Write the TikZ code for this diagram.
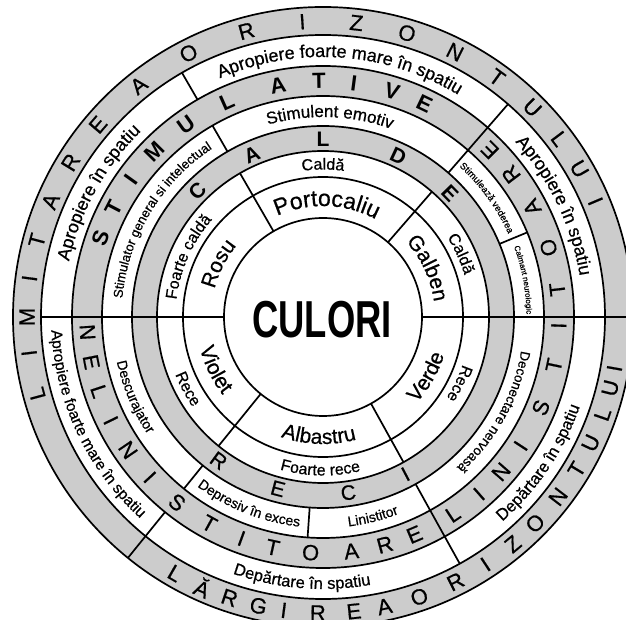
\documentclass[tikz,border=0pt]{standalone}
\usepackage{fontspec}
\usepackage{graphicx}
\setmainfont{Liberation Sans}
\newfontfamily\lab{Liberation Sans}[FakeBold=0.6]
\usetikzlibrary{decorations.text}
\definecolor{ringgray}{RGB}{204,204,204}
\newcommand\fs[1]{\fontsize{#1}{#1}\selectfont}
\newcommand\cwlabel[4]{%
  \path[decorate,decoration={text along path,text align=center,text={|\lab\fs{#3}|#4}}]
    ({#1+50}:#2pt) arc[start angle={#1+50},end angle={#1-50},radius=#2pt];}
\newcommand\ccwlabel[4]{%
  \path[decorate,decoration={text along path,text align=center,text={|\lab\fs{#3}|#4}}]
    ({#1-50}:#2pt) arc[start angle={#1-50},end angle={#1+50},radius=#2pt];}
\begin{document}
\begin{tikzpicture}[x=1pt,y=1pt,line width=1.7pt,
  capG/.style={font=\lab\fs{22},inner sep=0pt},
  capE/.style={font=\lab\fs{22},inner sep=0pt},
  capEb/.style={font=\fs{22}\bfseries,inner sep=0pt},
  capC/.style={font=\lab\fs{21},inner sep=0pt},
  capCb/.style={font=\fs{21}\bfseries,inner sep=0pt}]
\useasboundingbox (-323,-303) rectangle (303,317);
\clip (-323,-303) rectangle (303,317);
\fill[white] (-323,-303) rectangle (303,317);
% gray rings
\fill[ringgray,even odd rule] (0,0) circle[radius=310pt] (0,0) circle[radius=282pt];
\fill[ringgray,even odd rule] (0,0) circle[radius=251pt] (0,0) circle[radius=221pt];
\fill[ringgray,even odd rule] (0,0) circle[radius=191pt] (0,0) circle[radius=166pt];
\foreach \r in {99,140,166,191,221,251,282,310} \draw (0,0) circle[radius=\r pt];
% dividers
\draw (0:99pt) -- (0:310pt);
\draw (180:99pt) -- (180:282pt);
\foreach \a in {49,120,231,299} \draw (\a:99pt) -- (\a:166pt);
\foreach \a in {22.5,49,120,231,266,299} \draw (\a:191pt) -- (\a:221pt);
\foreach \a in {49,299} \draw (\a:221pt) -- (\a:251pt);
\foreach \a in {49,120,231,299} \draw (\a:251pt) -- (\a:282pt);
\draw (231:282pt) -- (231:310pt);
% centre
\node[font=\fs{52}\bfseries,inner sep=0pt] (culori) at (-1,-3) {\scalebox{0.7}[1]{CULORI}};
% ring A
\cwlabel{88}{111}{23}{Portocaliu}
\cwlabel{25}{112}{21}{Galben}
\cwlabel{153}{112}{21}{Rosu}
\ccwlabel{330}{127}{21}{Verde}
\ccwlabel{268}{127}{21}{Albastru}
\ccwlabel{206}{127}{21}{Violet}
% ring B
\cwlabel{90}{147.5}{16}{Caldă}
\cwlabel{24.6}{147.5}{16}{Caldă}
\cwlabel{334}{147.5}{16}{Rece}
\ccwlabel{269}{158.5}{16}{Foarte rece}
\ccwlabel{208}{158.5}{16}{Rece}
\cwlabel{156}{147.5}{16}{Foarte caldă}
% ring C
\foreach \a/\l [count=\i] in {135/C,113.6/A,90/L,64.9/D,44.3/E}
  \node[capCb,rotate=\a-90] (c\i) at (\a:177.5pt) {\l};
\foreach \a/\l [count=\i] in {234/R,255.3/E,278.2/C,297.7/I}
  \node[capC,rotate=\a+90] (r\i) at (\a:177.5pt) {\l};
% ring D
\cwlabel{88}{200}{17}{Stimulent emotiv}
\cwlabel{149}{201.5}{13}{Stimulator general si intelectual}
\cwlabel{36}{203}{9.5}{Stimulează vederea}
\cwlabel{10.5}{203.5}{8}{Calmant neurologic}
\cwlabel{331}{201}{13.5}{Deconectare nervoasă}
\ccwlabel{284}{211}{14}{Linistitor}
\ccwlabel{248.5}{211}{14}{Depresiv în exces}
\ccwlabel{203}{211}{14}{Descurajator}
% ring E
\foreach \a/\l [count=\i] in {160.5/S,152.5/T,144.5/I,135.5/M,125.5/U,114/L,101/A,91/T,82.5/I,73/V,64.5/E}
  \node[capEb,rotate=\a-90] (st\i) at (\a:236pt) {\l};
\foreach \a/\l [count=\i] in {183.7/N,191/E,198.4/L,206/I,214.3/N,222.8/I,231.8/S,241.2/T,249.8/I,257.7/T,267/O,276.9/A,285.2/R,292.8/E}
  \node[capE,rotate=\a+90] (ne\i) at (\a:236pt) {\l};
\foreach \a/\l [count=\i] in {303.4/L,311.4/I,319/N,326.9/I,337.4/S,348.2/T,357.9/I,366.7/T,377.1/O,387.7/A,397.2/R,405/E}
  \node[capE,rotate=\a+90] (li\i) at (\a:236pt) {\l};
% ring F
\cwlabel{86}{260}{18}{Apropiere foarte mare în spatiu}
\cwlabel{151}{260}{18}{Apropiere în spatiu}
\cwlabel{25.7}{260}{18}{Apropiere în spatiu}
\ccwlabel{326}{272}{16.5}{Depărtare în spatiu}
\ccwlabel{265.4}{272}{16.5}{Depărtare în spatiu}
\ccwlabel{205.3}{272}{15.5}{Apropiere foarte mare în spatiu}
% ring G
\foreach \a/\l [count=\i] in {195/L,187/I,180/M,172.5/I,165/T,157/A,148.5/R,139.5/E,128.5/A,117/O,105/R,94/I,83.5/Z,73.5/O,63.5/N,54/T,45/U,37/L,30/U,23/I}
  \node[capG,rotate=\a-90] (gt\i) at (\a:296pt) {\l};
\foreach \a/\l [count=\i] in {240/L,246/Ă,251.6/R,257.4/G,262.4/I,269/R,276/E,282/A,289/O,296.6/R,303.3/I,309.9/Z,315.8/O,322.6/N,329/T,334.8/U,340.8/L,346.1/U,350/I}
  \node[capG,rotate=\a+90] (gb\i) at (\a:296pt) {\l};
\end{tikzpicture}
\end{document}
